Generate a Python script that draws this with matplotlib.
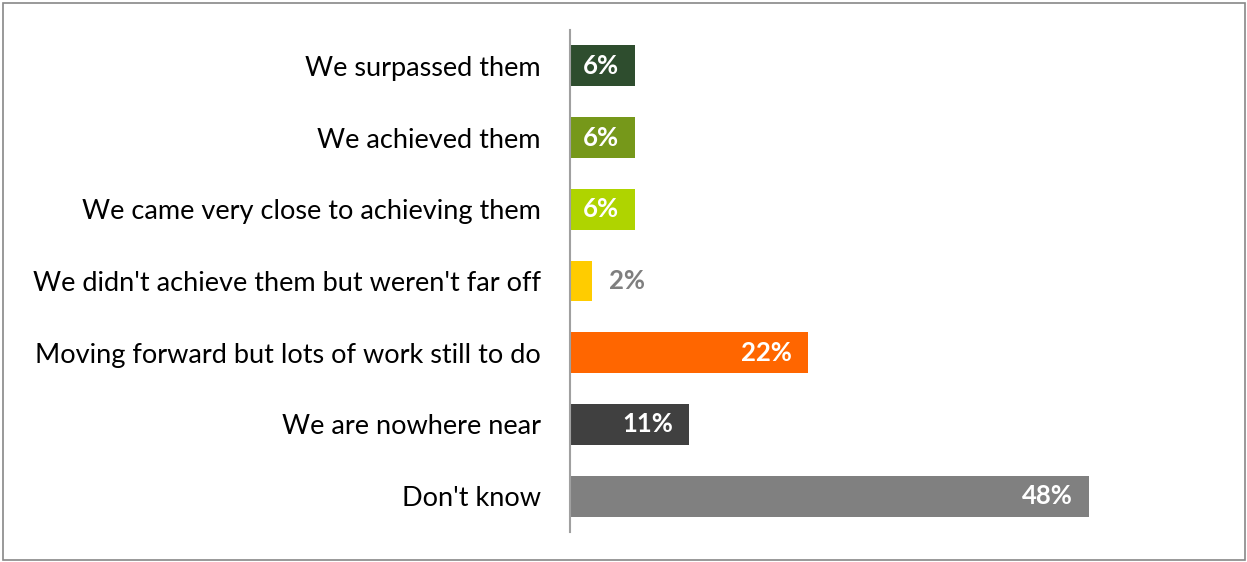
import matplotlib.pyplot as plt
from matplotlib.patches import Rectangle

categories = ["We surpassed them", "We achieved them", "We came very close to achieving them",
              "We didn't achieve them but weren't far off", "Moving forward but lots of work still to do",
              "We are nowhere near", "Don't know"]
values = [6, 6, 6, 2, 22, 11, 48]
colors = ["#2e4d2e", "#76981a", "#afd400", "#ffcc00", "#ff6600", "#404040", "#808080"]

plt.rcParams['font.family'] = ['Lato', 'DejaVu Sans']

W, H = 1247, 562
fig = plt.figure(figsize=(W / 100, H / 100), dpi=100)
ax = fig.add_axes([570 / W, 1 - 532 / H, (1240 - 570) / W, (532 - 30) / H])

ypos = range(len(categories))
bars = ax.barh(ypos, values, height=0.57, color=colors)
ax.set_xlim(0, 62)
ax.set_ylim(len(categories) - 0.5, -0.5)

for b, v in zip(bars, values):
    y = b.get_y() + b.get_height() / 2
    if v >= 5:
        ax.annotate(f"{v}%", (v, y), xytext=(-16, 0), textcoords='offset pixels',
                    ha='right', va='center', color='white', fontsize=18.5, fontweight='bold')
    else:
        ax.annotate(f"{v}%", (v, y), xytext=(17, 0), textcoords='offset pixels',
                    ha='left', va='center', color='#7f7f7f', fontsize=18.5, fontweight='bold')

ax.set_yticks(list(ypos))
ax.set_yticklabels(categories, fontsize=19.5, color='black')
ax.tick_params(axis='y', length=0, pad=21)
ax.set_xticks([])
for side in ['top', 'right', 'bottom']:
    ax.spines[side].set_visible(False)
ax.spines['left'].set_color('#a0a0a0')
ax.spines['left'].set_linewidth(1.5)

# outer chart border
fig.patches.append(Rectangle((2.5 / W, 2.5 / H), (W - 5) / W, (H - 5) / H,
                             transform=fig.transFigure, fill=False,
                             edgecolor='#888888', linewidth=1.2))

fig.savefig('out.png', dpi=100)
